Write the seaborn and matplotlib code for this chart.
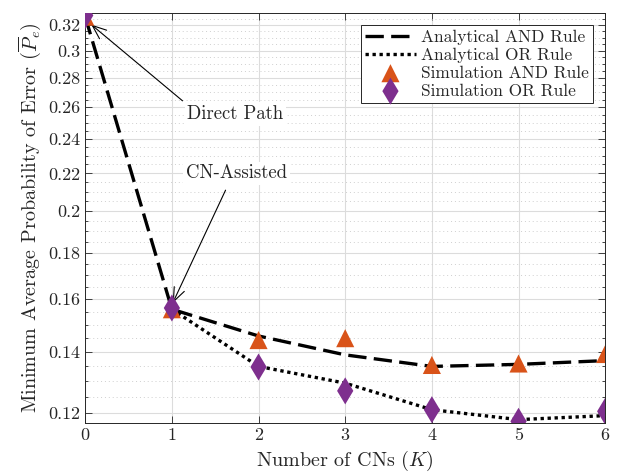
import numpy as np
import pandas as pd
import matplotlib
matplotlib.use("Agg")
import matplotlib.pyplot as plt
from matplotlib.ticker import FixedLocator, NullFormatter
import seaborn as sns

# Number of cooperating nodes
k_values = [0, 1, 2, 3, 4, 5, 6]

# Analytical curves (the OR curve is drawn from K = 1 onwards)
analytical_and = [0.327, 0.156, 0.1458, 0.139, 0.135, 0.1357, 0.137]
analytical_or = [np.nan, 0.156, 0.135, 0.1294, 0.121, 0.118, 0.1192]

# Monte-Carlo simulation points
simulation_and = [0.327, 0.156, 0.1443, 0.145, 0.1355, 0.136, 0.1393]
simulation_or = [0.328, 0.1565, 0.1348, 0.1269, 0.1210, 0.1175, 0.1205]

y_ticks = [0.12, 0.14, 0.16, 0.18, 0.2, 0.22, 0.24, 0.26, 0.28, 0.3, 0.32]
y_tick_labels = ["0.12", "0.14", "0.16", "0.18", "0.2", "0.22", "0.24",
                 "0.26", "0.28", "0.3", "0.32"]

sns.set_theme(style="ticks")
plt.rcParams["font.family"] = ["cmr10", "DejaVu Serif"]
plt.rcParams["mathtext.fontset"] = "cm"
plt.rcParams["axes.unicode_minus"] = False
plt.rcParams["axes.formatter.use_mathtext"] = True

df = pd.DataFrame({
    "K": k_values,
    "and_a": analytical_and,
    "or_a": analytical_or,
    "and_s": simulation_and,
    "or_s": simulation_or,
})

fig = plt.figure(figsize=(6.22, 4.75), dpi=100)
ax = fig.add_axes([0.137, 0.1095, 0.836, 0.863])

ax.set_yscale("log")

sns.lineplot(data=df, x="K", y="and_a", ax=ax, color="black", lw=2.4,
             label="Analytical AND Rule", zorder=3)
ax.lines[-1].set_dashes([5.5, 2.2])
sns.lineplot(data=df.dropna(), x="K", y="or_a", ax=ax, color="black", lw=2.4,
             label="Analytical OR Rule", zorder=3)
ax.lines[-1].set_linestyle((0, (1, 1.1)))
sns.scatterplot(data=df, x="K", y="and_s", ax=ax, marker="^", s=170,
                color="#D95319", edgecolor="none",
                label="Simulation AND Rule", zorder=4)
sns.scatterplot(data=df, x="K", y="or_s", ax=ax, marker="d", s=190,
                color="#7E2F8E", edgecolor="none",
                label="Simulation OR Rule", zorder=5)

ax.set_xlim(0, 6)
ax.set_ylim(0.117, 0.330)
ax.set_xticks(k_values)
ax.set_xticklabels([str(k) for k in k_values])
ax.yaxis.set_major_locator(FixedLocator(y_ticks))
ax.set_yticklabels(y_tick_labels)
minor = [round(v, 3) for v in np.arange(0.12, 0.3301, 0.005)
         if round(v, 3) not in [round(t, 3) for t in y_ticks]]
ax.yaxis.set_minor_locator(FixedLocator(minor))
ax.yaxis.set_minor_formatter(NullFormatter())

ax.grid(which="major", color="#dcdcdc", lw=0.8, ls="-")
ax.grid(which="minor", axis="y", color="#cfcfcf", lw=0.7, ls=(0, (1, 3)))
ax.set_axisbelow(True)

ax.tick_params(which="both", direction="in", top=True, right=True,
               labelsize=13, colors="#262626", width=0.6)
ax.tick_params(which="major", length=5)
ax.tick_params(which="minor", length=2.5)
for s in ax.spines.values():
    s.set_color("#262626")
    s.set_linewidth(0.7)

ax.set_xlabel(r"Number of CNs $(K)$", fontsize=14.5, color="#262626",
              labelpad=4)
ax.set_ylabel(r"Minimum Average Probability of Error $(\overline{P}_e)$",
              fontsize=14.5, color="#262626", labelpad=3)

leg = ax.legend(loc="upper right", fontsize=12.5, frameon=True, fancybox=False,
                edgecolor="#262626", framealpha=1, borderpad=0.25,
                handlelength=2.9, handletextpad=0.3, labelspacing=0.15,
                borderaxespad=0.7)
leg.get_frame().set_linewidth(0.7)

arrow_style = "->,head_length=0.5,head_width=0.2"
ax.annotate("Direct Path", xy=(0.07, 0.3205), xytext=(1.18, 0.2557),
            fontsize=13.5, va="center", ha="left",
            arrowprops=dict(arrowstyle=arrow_style, color="black", lw=0.8,
                            mutation_scale=20, shrinkA=2, shrinkB=0,
                            relpos=(0.0, 1.0)),
            bbox=dict(boxstyle="square,pad=0.15", fc="white", ec="none"))
ax.annotate("CN-Assisted", xy=(1.01, 0.1585), xytext=(1.16, 0.22),
            fontsize=13.5, va="center", ha="left",
            arrowprops=dict(arrowstyle=arrow_style, color="black", lw=0.8,
                            mutation_scale=20, shrinkA=4, shrinkB=0,
                            relpos=(0.43, 0.0)),
            bbox=dict(boxstyle="square,pad=0.15", fc="white", ec="none"))

fig.savefig("out.png", dpi=100)
